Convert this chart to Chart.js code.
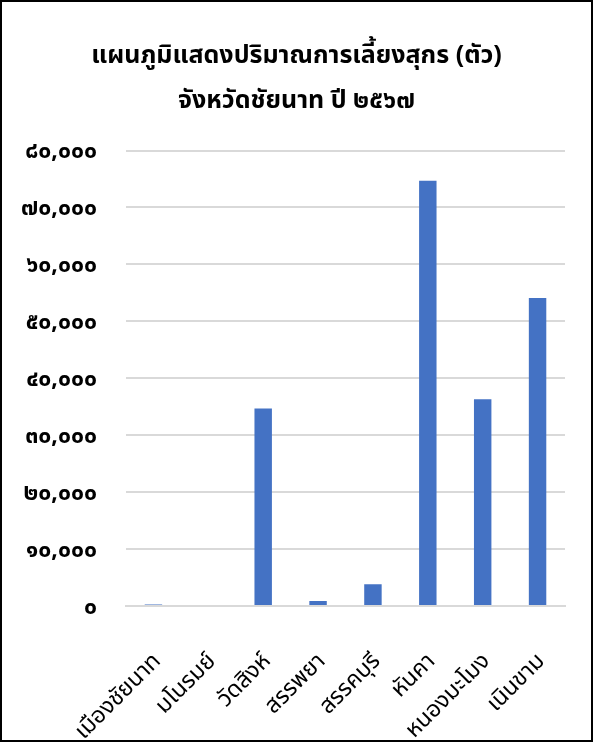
<!DOCTYPE html>
<html>
<head>
<meta charset="utf-8">
<script src="https://cdn.jsdelivr.net/npm/chart.js@4.4.0/dist/chart.umd.min.js"></script>
<style>
  html, body { margin: 0; padding: 0; background: #fff; }
  #wrap { width: 593px; height: 742px; box-sizing: border-box; border: 2px solid #000; position: relative; }
  #c { display: block; }
</style>
</head>
<body>
<div id="wrap"><canvas id="c" width="589" height="738"></canvas></div>
<script>
const titleLines = ['แผนภูมิแสดงปริมาณการเลี้ยงสุกร (ตัว)', 'จังหวัดชัยนาท ปี ๒๕๖๗'];
const categories = ['เมืองชัยนาท', 'มโนรมย์', 'วัดสิงห์', 'สรรพยา', 'สรรคบุรี', 'หันคา', 'หนองมะโมง', 'เนินขาม'];
const pigCounts = [250, 0, 34700, 900, 3800, 74700, 36300, 54100];
const yTickValues = [0, 10000, 20000, 30000, 40000, 50000, 60000, 70000, 80000];

const thaiDigits = '๐๑๒๓๔๕๖๗๘๙';
function toThai(n) {
  return n.toLocaleString('en-US').replace(/[0-9]/g, d => thaiDigits[+d]);
}
const FONT = "'Noto Sans Thai', 'Noto Sans', 'Leelawadee UI', Tahoma, sans-serif";

new Chart(document.getElementById('c'), {
  type: 'bar',
  data: {
    labels: categories,
    datasets: [{
      data: pigCounts,
      backgroundColor: '#4472C4',
      borderWidth: 0,
      barPercentage: 0.53,
      categoryPercentage: 0.6
    }]
  },
  options: {
    responsive: false,
    animation: false,
    layout: { padding: { left: 0, right: 0, top: 33, bottom: 0 } },
    plugins: {
      legend: { display: false },
      tooltip: { enabled: false },
      title: {
        display: true,
        text: titleLines,
        color: '#000',
        font: { family: FONT, size: 25, weight: 'bold', lineHeight: 1.8 },
        padding: { top: 0, bottom: 25.5 }
      }
    },
    scales: {
      x: {
        grid: { display: false, drawTicks: false },
        border: { display: true, color: '#d9d9d9', width: 2, z: -1 },
        afterFit: s => { s.paddingLeft = 0; s.paddingRight = 26; s.height = 134; },
        ticks: {
          color: '#000',
          font: { family: FONT, size: 23 },
          maxRotation: 45, minRotation: 45,
          padding: 43,
          labelOffset: 5
        }
      },
      y: {
        min: 0, max: 80000,
        afterBuildTicks: axis => { axis.ticks = yTickValues.map(v => ({ value: v })); },
        afterFit: s => { s.width = 124; },
        grid: { color: '#d9d9d9', lineWidth: 2, drawTicks: false },
        border: { display: false },
        ticks: {
          color: '#000',
          font: { family: FONT, size: 23, weight: 'bold' },
          padding: 29,
          labelOffset: 3,
          callback: v => toThai(v)
        }
      }
    }
  }
});
</script>
</body>
</html>
